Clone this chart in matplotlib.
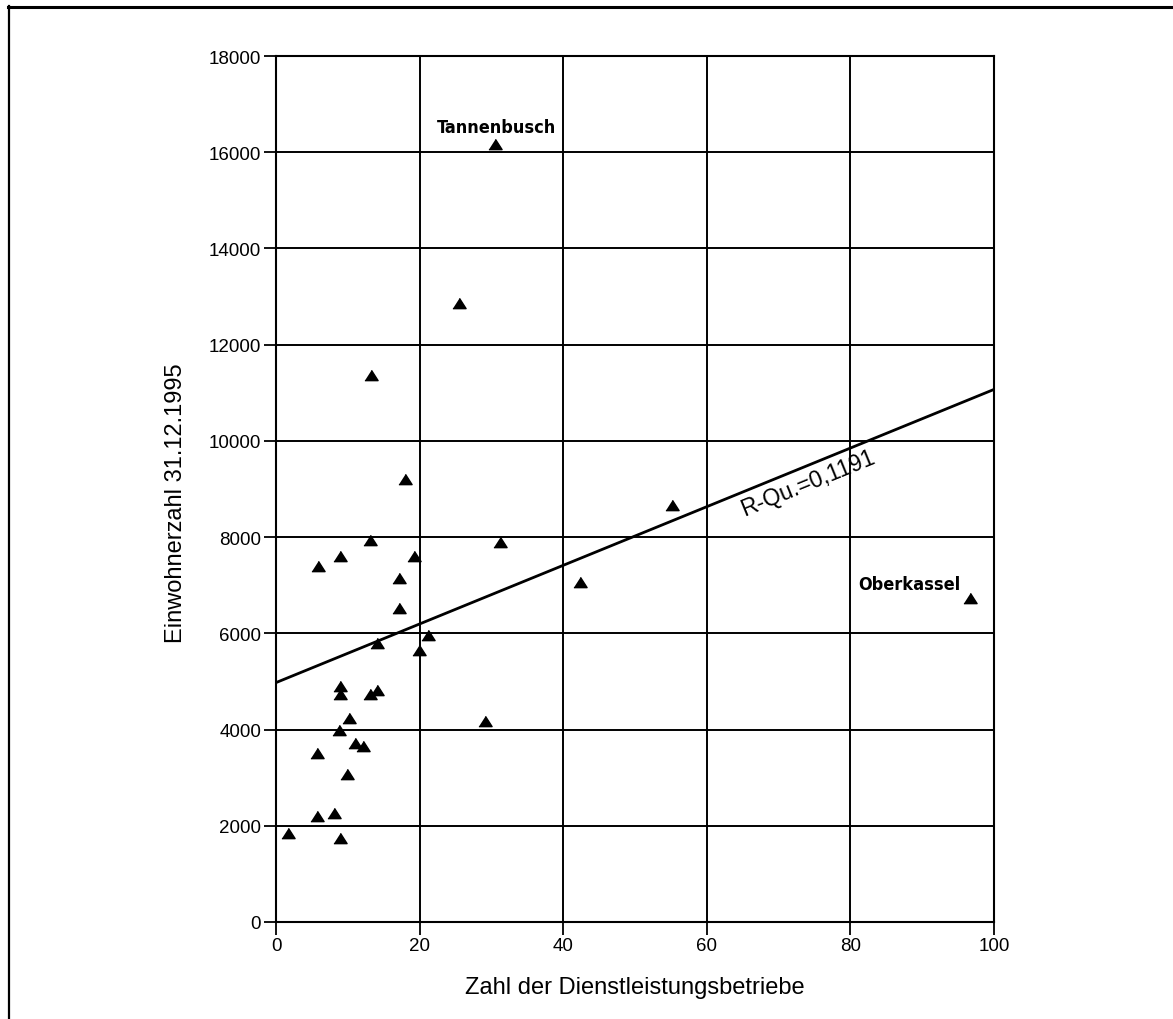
import matplotlib
matplotlib.use('Agg')
import matplotlib.pyplot as plt
from matplotlib.lines import Line2D

# Stadtteile: Zahl der Dienstleistungsbetriebe / Einwohnerzahl 31.12.1995
betriebe = [1.6, 5.7, 8.0, 8.8, 5.7, 9.8, 10.9, 12.1, 8.7, 10.1, 8.8, 8.9, 13.0, 14.0,
            14.0, 19.8, 21.1, 17.1, 17.1, 19.1, 13.0, 8.9, 5.8, 17.9, 13.2, 25.4,
            30.4, 29.0, 31.1, 42.3, 55.1, 96.7]
einwohner = [1840, 2210, 2260, 1740, 3510, 3070, 3720, 3660, 4000, 4250, 4910, 4740,
             4730, 4820, 5800, 5660, 5970, 6520, 7160, 7610, 7950, 7600, 7400, 9210,
             11360, 12860, 16170, 4180, 7890, 7070, 8670, 6730]

# Regressionsgerade
achsenabschnitt = 4980
steigung = 60.9
r_qu = "R-Qu.=0,1191"

xticks = [0, 20, 40, 60, 80, 100]
yticks = [0, 2000, 4000, 6000, 8000, 10000, 12000, 14000, 16000, 18000]

plt.rcParams['font.family'] = ['Liberation Sans', 'DejaVu Sans']
narrow = ['DejaVu Sans']

fig = plt.figure(figsize=(11.73, 10.20), dpi=100)
ax = fig.add_axes([0.2357, 0.0951, 0.6117, 0.8490])

ax.set_xlim(0, 100)
ax.set_ylim(0, 18000)
ax.set_xticks(xticks)
ax.set_yticks(yticks)
ax.grid(True, color='black', linewidth=1.4)
ax.set_axisbelow(True)
for s in ax.spines.values():
    s.set_linewidth(1.5)
ax.tick_params(direction='out', length=9, width=1.3, labelsize=13.5, pad=2)

# Regressionsgerade
xs = [0, 100]
ys = [achsenabschnitt + steigung * v for v in xs]
ax.plot(xs, ys, color='black', linewidth=2, zorder=3)

tri = [(-1, -0.78), (1, -0.78), (0, 0.78)]
ax.plot(betriebe, einwohner, linestyle='none', marker=tri, markersize=9.5,
        color='black', zorder=4, clip_on=False)

ax.text(74, 9140, r_qu, rotation=22.2, rotation_mode='anchor', ha='center', va='center',
        fontsize=16.5, zorder=5)
ax.text(30.6, 16530, "Tannenbusch", family=narrow, fontstretch='condensed',
        fontweight='bold', fontsize=13, ha='center', va='center', zorder=5)
ax.text(95.4, 7030, "Oberkassel", family=narrow, fontstretch='condensed',
        fontweight='bold', fontsize=13, ha='right', va='center', zorder=5)

ax.set_xlabel("Zahl der Dienstleistungsbetriebe", fontsize=17)
ax.set_ylabel("Einwohnerzahl 31.12.1995", fontsize=17)
ax.xaxis.set_label_coords(0.5, -0.062)
ax.yaxis.set_label_coords(-0.125, 0.485)

# Rahmen der Seite (oben und links)
fig.add_artist(Line2D([0.007, 1.0], [0.9925, 0.9925], transform=fig.transFigure,
                      color='black', linewidth=2.2))
fig.add_artist(Line2D([0.0075, 0.0075], [0.0, 0.993], transform=fig.transFigure,
                      color='black', linewidth=1.6))

fig.savefig('out.png', dpi=100)
